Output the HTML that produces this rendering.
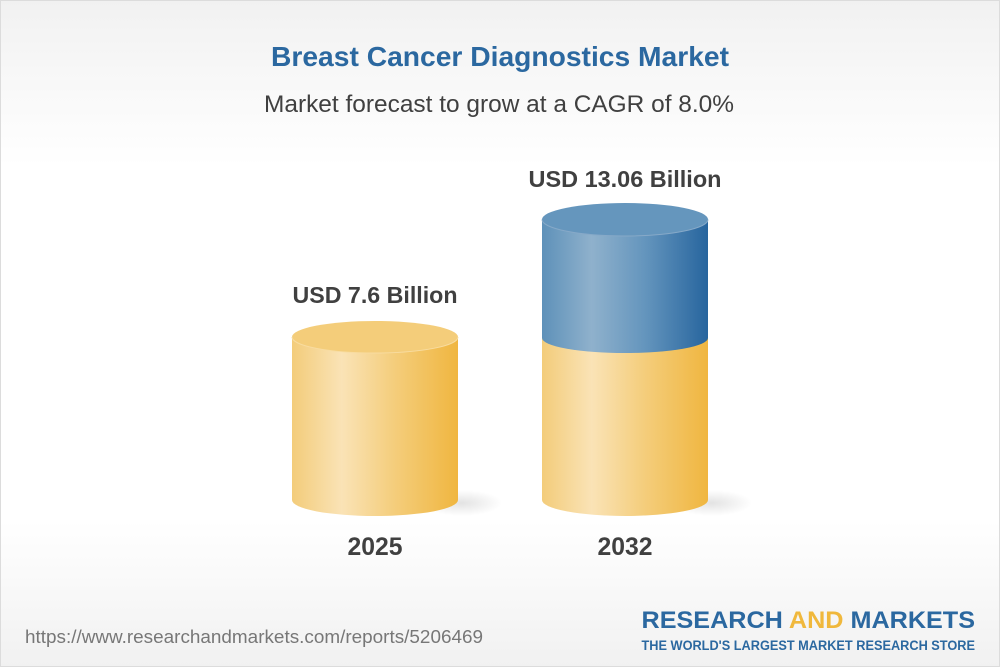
<!DOCTYPE html>
<html>
<head>
<meta charset="utf-8">
<style>
html,body{margin:0;padding:0;width:1000px;height:667px;overflow:hidden;background:#fff;}
svg{display:block;}
text{font-family:"Liberation Sans",Arial,sans-serif;}
</style>
</head>
<body>
<svg width="1000" height="667" viewBox="0 0 1000 667" xmlns="http://www.w3.org/2000/svg">
<defs>
  <linearGradient id="bg" x1="0" y1="0" x2="0" y2="1">
    <stop offset="0" stop-color="#f1f1f1"/>
    <stop offset="0.25" stop-color="#ffffff"/>
    <stop offset="0.78" stop-color="#ffffff"/>
    <stop offset="1" stop-color="#f1f1f1"/>
  </linearGradient>
  <linearGradient id="yel" x1="0" y1="0" x2="1" y2="0">
    <stop offset="0" stop-color="#f3cc7a"/>
    <stop offset="0.3" stop-color="#fae3b6"/>
    <stop offset="0.62" stop-color="#f4cd7b"/>
    <stop offset="1" stop-color="#f0b640"/>
  </linearGradient>
  <linearGradient id="blu" x1="0" y1="0" x2="1" y2="0">
    <stop offset="0" stop-color="#5e91b9"/>
    <stop offset="0.3" stop-color="#8fb1cc"/>
    <stop offset="0.62" stop-color="#6495bd"/>
    <stop offset="1" stop-color="#27659e"/>
  </linearGradient>
  <radialGradient id="sh" cx="0.5" cy="0.5" r="0.5">
    <stop offset="0" stop-color="#000" stop-opacity="0.11"/>
    <stop offset="1" stop-color="#000" stop-opacity="0"/>
  </radialGradient>
</defs>

<rect x="0" y="0" width="1000" height="667" fill="url(#bg)"/>
<rect x="0.5" y="0.5" width="999" height="666" fill="none" stroke="#dcdcdc" stroke-width="1"/>

<!-- titles -->
<text x="500" y="66" text-anchor="middle" font-size="28" font-weight="bold" fill="#2b68a0" textLength="458" lengthAdjust="spacingAndGlyphs">Breast Cancer Diagnostics Market</text>
<text x="499" y="112" text-anchor="middle" font-size="24" fill="#404040" textLength="470" lengthAdjust="spacingAndGlyphs">Market forecast to grow at a CAGR of 8.0%</text>

<!-- shadows -->
<ellipse cx="462" cy="503" rx="40" ry="13" fill="url(#sh)"/>
<ellipse cx="712" cy="503" rx="40" ry="13" fill="url(#sh)"/>

<!-- cylinder 2025 -->
<path d="M292 337 L292 500 A83 16 0 0 0 458 500 L458 337 Z" fill="url(#yel)"/>
<ellipse cx="375" cy="337" rx="83" ry="16" fill="#f4cd7a"/>
<path d="M292 337 A83 16 0 0 0 458 337" fill="none" stroke="#f8dca0" stroke-width="1"/>

<!-- cylinder 2032 -->
<path d="M542 338 L542 500 A83 16 0 0 0 708 500 L708 338 Z" fill="url(#yel)"/>
<path d="M542 219 L542 338 A83 15 0 0 0 708 338 L708 219 Z" fill="url(#blu)"/>
<ellipse cx="625" cy="219.5" rx="83" ry="16.5" fill="#6596bd"/>
<path d="M542 219.5 A83 16.5 0 0 0 708 219.5" fill="none" stroke="#86a9c8" stroke-width="1"/>

<!-- value labels -->
<text x="375" y="303" text-anchor="middle" font-size="23" font-weight="bold" fill="#404040" textLength="165" lengthAdjust="spacingAndGlyphs">USD 7.6 Billion</text>
<text x="625" y="187" text-anchor="middle" font-size="23" font-weight="bold" fill="#404040" textLength="193" lengthAdjust="spacingAndGlyphs">USD 13.06 Billion</text>

<!-- year labels -->
<text x="375" y="555" text-anchor="middle" font-size="25" font-weight="bold" fill="#404040" textLength="55" lengthAdjust="spacingAndGlyphs">2025</text>
<text x="625" y="555" text-anchor="middle" font-size="25" font-weight="bold" fill="#404040" textLength="55" lengthAdjust="spacingAndGlyphs">2032</text>

<!-- footer url -->
<text x="25" y="643" font-size="18" fill="#777777" textLength="458" lengthAdjust="spacingAndGlyphs">https://www.researchandmarkets.com/reports/5206469</text>

<!-- logo -->
<text x="641.5" y="628" font-size="24" font-weight="bold" fill="#2b68a0" textLength="333.5" lengthAdjust="spacingAndGlyphs">RESEARCH <tspan fill="#f0b83c">AND</tspan> MARKETS</text>
<text x="641.5" y="650" font-size="13.5" font-weight="bold" fill="#2b68a0" textLength="333.5" lengthAdjust="spacingAndGlyphs">THE WORLD'S LARGEST MARKET RESEARCH STORE</text>
</svg>
</body>
</html>
